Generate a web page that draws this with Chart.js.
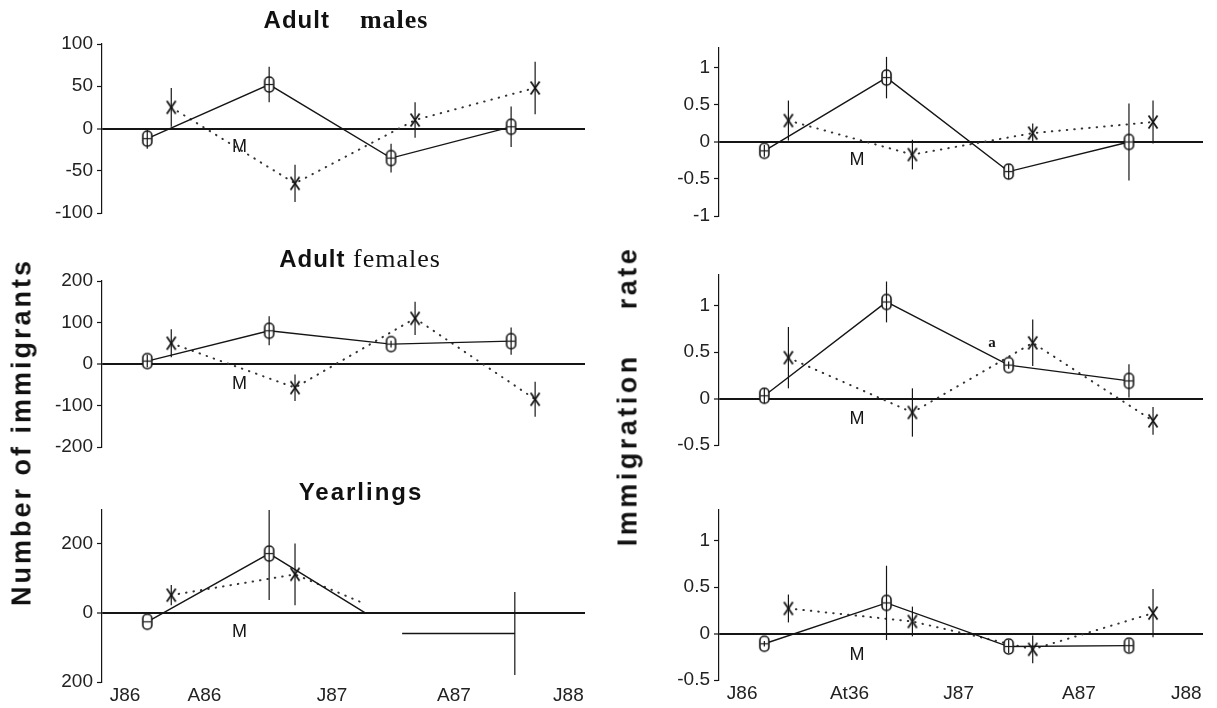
<!DOCTYPE html>
<html>
<head>
<meta charset="utf-8">
<script src="https://cdn.jsdelivr.net/npm/chart.js@4.4.1/dist/chart.umd.min.js"></script>
<style>
  body { margin: 0; background: #fff; width: 1217px; height: 708px; position: relative; overflow: hidden; }
  canvas { position: absolute; }
  .ttl { position: absolute; transform: translate(-50%, -50%); white-space: pre; color: #111; z-index: 2; }
  .sans { font-family: 'Liberation Sans', Arial, sans-serif; font-weight: bold; font-size: 24px; letter-spacing: 1px; }
  .serif { font-family: 'Liberation Serif', 'Times New Roman', serif; font-size: 26px; letter-spacing: 1px; }
  .ytl { position: absolute; transform: translate(-50%, -50%) rotate(-90deg); white-space: pre; color: #111;
         font: bold 27px 'Liberation Sans', Arial, sans-serif; letter-spacing: 3px; z-index: 2; }
</style>
</head>
<body>
<div class="ttl" style="left:346px;top:20px"><span class="sans">Adult</span><span class="serif" style="font-weight:bold">    males</span></div>
<div class="ttl" style="left:360px;top:259px"><span class="sans">Adult</span><span class="serif"> females</span></div>
<div class="ttl" style="left:361px;top:492px"><span class="sans" style="letter-spacing:2px">Yearlings</span></div>
<div class="ytl" style="left:22px;top:432px">Number of immigrants</div>
<div class="ytl" style="left:628px;top:396px;letter-spacing:3.5px">Immigration    rate</div>

<canvas id="L1"></canvas>
<canvas id="L2"></canvas>
<canvas id="L3"></canvas>
<canvas id="R1"></canvas>
<canvas id="R2"></canvas>
<canvas id="R3"></canvas>

<script>
// x positions (months from J86)
const xTicksLeft = [0, 4.3, 11.2, 17.8, 24];
const xLabelsLeft = ['J86', 'A86', 'J87', 'A87', 'J88'];
const xTicksRight = [0, 5.8, 11.7, 18.2, 24];
const xLabelsRight = ['J86', 'At36', 'J87', 'A87', 'J88'];

const oDates = [1.2, 7.8, 14.4, 20.9];
const xDates = [2.5, 9.2, 15.7, 22.2];
const mDate = 6.2;

// Number of immigrants - adult males
const malesNumO = [-12, 52, -35, 2];
const malesNumOErr = [12, 21, 17, 24];
const malesNumX = [25, -65, 10, 48];
const malesNumXErr = [23, 22, 21, 31];
const malesNumM = -22;

// Number of immigrants - adult females
const femNumO = [7, 80, 48, 55];
const femNumOErr = [15, 35, 8, 33];
const femNumX = [50, -57, 110, -85];
const femNumXErr = [34, 32, 40, 42];
const femNumM = -48;

// Number of immigrants - yearlings
const yearNumODates = [1.2, 7.8, 13.0];
const yearNumO = [-26, 171, 0];
const yearNumOErr = [0, 134, 0];
const yearNumXDates = [2.5, 9.2, 12.8];
const yearNumX = [51, 111, 30];
const yearNumXErr = [29, 89, 0];
const yearNumTailDates = [15.0, 21.1];
const yearNumTail = [-60, -60];
const yearNumTailErr = [0, 120];
const yearNumM = -57;

// Immigration rate - adult males
const malesRateO = [-0.12, 0.87, -0.4, 0.0];
const malesRateOErr = [0.08, 0.28, 0.1, 0.52];
const malesRateX = [0.29, -0.17, 0.12, 0.27];
const malesRateXErr = [0.27, 0.2, 0.13, 0.29];
const malesRateM = -0.25;

// Immigration rate - adult females
const femRateO = [0.03, 1.04, 0.36, 0.19];
const femRateOErr = [0.08, 0.22, 0.04, 0.18];
const femRateX = [0.44, -0.15, 0.6, -0.24];
const femRateXErr = [0.33, 0.26, 0.25, 0.15];
const femRateM = -0.22;

// Immigration rate - yearlings
const yearRateO = [-0.11, 0.33, -0.14, -0.13];
const yearRateOErr = [0.03, 0.4, 0.07, 0.07];
const yearRateX = [0.27, 0.13, -0.17, 0.22];
const yearRateXErr = [0.15, 0.16, 0.15, 0.26];
const yearRateM = -0.23;

const tickFont = { family: "'Liberation Sans', Arial, sans-serif", size: 19 };
const ink = '#151515';

// markers
function makeOMarker() {
  const c = document.createElement('canvas');
  c.width = 13; c.height = 19;
  const g = c.getContext('2d');
  g.fillStyle = '#fff'; g.strokeStyle = ink; g.lineWidth = 1.6;
  g.beginPath(); g.roundRect(2, 2, 9, 15, 4.2); g.fill(); g.stroke();
  g.lineWidth = 1.2;
  g.beginPath(); g.moveTo(2.5, 9.5); g.lineTo(10.5, 9.5); g.stroke();
  return c;
}
function makeXMarker() {
  const c = document.createElement('canvas');
  c.width = 12; c.height = 16;
  const g = c.getContext('2d');
  g.strokeStyle = ink; g.lineWidth = 1.8;
  g.beginPath(); g.moveTo(1.5, 1.5); g.lineTo(10.5, 14.5); g.moveTo(10.5, 1.5); g.lineTo(1.5, 14.5); g.stroke();
  return c;
}
const oMarker = makeOMarker();
const xMarker = makeXMarker();

// vertical error bars drawn from each dataset's err array
const errorBars = {
  id: 'errorBars',
  afterDatasetsDraw(chart) {
    const { ctx, chartArea, scales } = chart;
    ctx.save();
    ctx.strokeStyle = ink;
    ctx.lineWidth = 1.2;
    chart.data.datasets.forEach(ds => {
      if (!ds.err) return;
      ds.data.forEach((p, i) => {
        const e = ds.err[i];
        if (!e) return;
        const x = scales.x.getPixelForValue(p.x);
        const y1 = Math.max(chartArea.top, scales.y.getPixelForValue(p.y + e));
        const y2 = Math.min(chartArea.bottom, scales.y.getPixelForValue(p.y - e));
        ctx.beginPath(); ctx.moveTo(x, y1); ctx.lineTo(x, y2); ctx.stroke();
      });
    });
    ctx.restore();
  }
};

// "M" marks and stray text
const noteText = {
  id: 'noteText',
  afterDatasetsDraw(chart, args, opts) {
    if (!opts.items) return;
    const { ctx, scales } = chart;
    ctx.save();
    ctx.fillStyle = ink;
    ctx.textAlign = 'center';
    ctx.textBaseline = 'middle';
    opts.items.forEach(it => {
      ctx.font = it.font || "18px 'Liberation Sans Narrow', 'Liberation Sans', Arial, sans-serif";
      ctx.fillText(it.text, scales.x.getPixelForValue(it.x), scales.y.getPixelForValue(it.y));
    });
    ctx.restore();
  }
};

function pts(xs, ys) {
  return xs.map((x, i) => ({ x: x, y: ys[i] }));
}

function oSeries(xs, ys, err, radii) {
  return {
    data: pts(xs, ys), err: err,
    borderColor: ink, borderWidth: 1.4, tension: 0, fill: false,
    pointStyle: oMarker, pointRadius: radii || 7, pointHoverRadius: radii || 7
  };
}
function xSeries(xs, ys, err, radii) {
  return {
    data: pts(xs, ys), err: err,
    borderColor: '#333', borderWidth: 2, borderDash: [0.5, 7], borderCapStyle: 'round',
    tension: 0, fill: false,
    pointStyle: xMarker, pointRadius: radii || 7, pointHoverRadius: radii || 7
  };
}

function makePanel(cfg) {
  const cv = document.getElementById(cfg.id);
  const right = cfg.col === 'R';
  const cLeft = right ? 600 : 0;
  const cWidth = right ? 617 : 600;
  const axisW = right ? 119 : 102;
  const padR = right ? 14 : 15;
  const pad = 16;
  const cTop = cfg.plotTop - pad;
  const cHeight = cfg.bottom ? 708 - cTop : cfg.plotBottom + pad - cTop;
  cv.width = cWidth; cv.height = cHeight;
  cv.style.left = cLeft + 'px'; cv.style.top = cTop + 'px';
  cv.style.width = cWidth + 'px'; cv.style.height = cHeight + 'px';

  const xTicks = right ? xTicksRight : xTicksLeft;
  const xLabels = right ? xLabelsRight : xLabelsLeft;

  const xScale = {
    type: 'linear', min: -1.25, max: 24.9,
    display: !!cfg.bottom,
    grid: { display: false, drawTicks: false },
    border: { display: false },
    afterBuildTicks: s => { s.ticks = xTicks.map(v => ({ value: v })); },
    ticks: {
      autoSkip: false, maxRotation: 0, padding: 2,
      font: tickFont, color: '#222',
      callback: (v, i) => xLabels[i]
    }
  };
  if (cfg.bottom) xScale.afterFit = s => { s.height = 708 - cfg.plotBottom; };

  new Chart(cv, {
    type: 'line',
    data: { datasets: cfg.datasets },
    options: {
      responsive: false,
      animation: false,
      devicePixelRatio: 1,
      layout: { padding: { top: pad, right: padR, left: 0, bottom: cfg.bottom ? 0 : pad } },
      plugins: {
        legend: { display: false },
        tooltip: { enabled: false },
        noteText: { items: cfg.notes }
      },
      scales: {
        x: xScale,
        y: {
          type: 'linear', min: cfg.yMin, max: cfg.yMax,
          afterBuildTicks: s => { s.ticks = cfg.yTicks.map(v => ({ value: v })); },
          afterFit: s => { s.width = axisW; },
          border: { display: true, color: ink, width: 1.2 },
          grid: {
            color: c => (c.tick && c.tick.value === 0) ? ink : 'rgba(0,0,0,0)',
            lineWidth: c => (c.tick && c.tick.value === 0) ? 2 : 1,
            tickColor: ink, tickLength: 5, tickWidth: 1.2
          },
          ticks: {
            padding: 4, font: tickFont, color: '#222',
            callback: (v, i) => cfg.yLabels[i]
          }
        }
      }
    },
    plugins: [errorBars, noteText]
  });
}

makePanel({
  id: 'L1', col: 'L', plotTop: 44, plotBottom: 213,
  yMin: -100, yMax: 100, yTicks: [-100, -50, 0, 50, 100], yLabels: ['-100', '-50', '0', '50', '100'],
  datasets: [oSeries(oDates, malesNumO, malesNumOErr), xSeries(xDates, malesNumX, malesNumXErr)],
  notes: [{ text: 'M', x: mDate, y: malesNumM }]
});

makePanel({
  id: 'L2', col: 'L', plotTop: 281, plotBottom: 447,
  yMin: -200, yMax: 200, yTicks: [-200, -100, 0, 100, 200], yLabels: ['-200', '-100', '0', '100', '200'],
  datasets: [oSeries(oDates, femNumO, femNumOErr), xSeries(xDates, femNumX, femNumXErr)],
  notes: [{ text: 'M', x: mDate, y: femNumM }]
});

makePanel({
  id: 'L3', col: 'L', plotTop: 510, plotBottom: 682, bottom: true,
  yMin: -200, yMax: 297, yTicks: [-200, 0, 200], yLabels: ['200', '0', '200'],
  datasets: [
    oSeries(yearNumODates, yearNumO, yearNumOErr, [7, 7, 0]),
    xSeries(yearNumXDates, yearNumX, yearNumXErr, [7, 7, 0]),
    { data: pts(yearNumTailDates, yearNumTail), err: yearNumTailErr,
      borderColor: ink, borderWidth: 1.4, pointRadius: 0, fill: false, tension: 0 }
  ],
  notes: [{ text: 'M', x: mDate, y: yearNumM }]
});

makePanel({
  id: 'R1', col: 'R', plotTop: 48, plotBottom: 216,
  yMin: -1, yMax: 1.27, yTicks: [-1, -0.5, 0, 0.5, 1], yLabels: ['-1', '-0.5', '0', '0.5', '1'],
  datasets: [oSeries(oDates, malesRateO, malesRateOErr), xSeries(xDates, malesRateX, malesRateXErr)],
  notes: [{ text: 'M', x: mDate, y: malesRateM }]
});

makePanel({
  id: 'R2', col: 'R', plotTop: 275, plotBottom: 445,
  yMin: -0.5, yMax: 1.33, yTicks: [-0.5, 0, 0.5, 1], yLabels: ['-0.5', '0', '0.5', '1'],
  datasets: [oSeries(oDates, femRateO, femRateOErr), xSeries(xDates, femRateX, femRateXErr)],
  notes: [
    { text: 'M', x: mDate, y: femRateM },
    { text: 'a', x: 13.5, y: 0.6, font: "bold 15px 'Liberation Serif', serif" }
  ]
});

makePanel({
  id: 'R3', col: 'R', plotTop: 510, plotBottom: 680, bottom: true,
  yMin: -0.5, yMax: 1.33, yTicks: [-0.5, 0, 0.5, 1], yLabels: ['-0.5', '0', '0.5', '1'],
  datasets: [oSeries(oDates, yearRateO, yearRateOErr), xSeries(xDates, yearRateX, yearRateXErr)],
  notes: [{ text: 'M', x: mDate, y: yearRateM }]
});
</script>
</body>
</html>
